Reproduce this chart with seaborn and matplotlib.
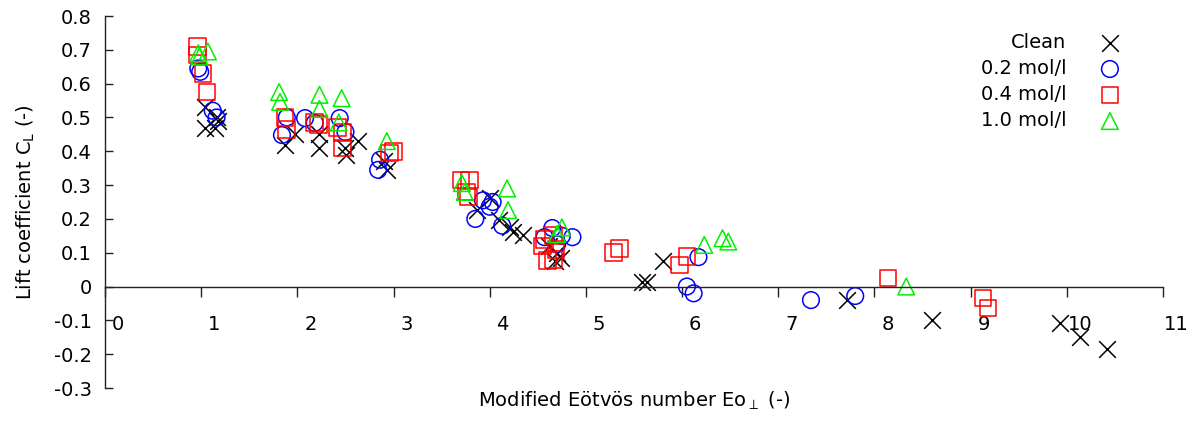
import matplotlib
matplotlib.use("Agg")
import matplotlib.pyplot as plt
import matplotlib.transforms as mtransforms
import pandas as pd
import seaborn as sns

# Lift coefficient vs. modified Eötvös number for each electrolyte concentration
clean_eo = [1.04, 1.16, 1.04, 1.14, 1.17,
            1.87, 1.98, 2.23, 2.23, 2.50, 2.51, 2.63, 2.90, 2.93,
            3.87, 4.00, 4.10, 4.21, 4.24, 4.35,
            4.62, 4.70, 4.74, 4.68,
            5.58, 5.64, 5.80, 7.71, 8.60, 9.93, 10.14, 10.42]
clean_cl = [0.53, 0.50, 0.47, 0.47, 0.49,
            0.42, 0.45, 0.45, 0.41, 0.41, 0.39, 0.43, 0.37, 0.345,
            0.227, 0.262, 0.197, 0.176, 0.16, 0.152,
            0.12, 0.10, 0.085, 0.075,
            0.013, 0.013, 0.075, -0.04, -0.10, -0.108, -0.149, -0.185]

c02_eo = [0.97, 0.99, 1.12, 1.16,
          1.84, 1.89, 2.08, 2.18, 2.44, 2.50, 2.86, 2.84,
          3.85, 3.93, 4.03, 4.00, 4.13,
          4.57, 4.65, 4.75, 4.86, 4.70,
          6.17, 6.05, 6.12, 7.34, 7.80]
c02_cl = [0.645, 0.635, 0.52, 0.50,
          0.448, 0.50, 0.498, 0.484, 0.498, 0.457, 0.375, 0.345,
          0.20, 0.255, 0.25, 0.236, 0.18,
          0.146, 0.173, 0.15, 0.146, 0.125,
          0.087, 0.0, -0.02, -0.04, -0.028]

c04_eo = [0.96, 0.96, 1.02, 1.06,
          1.87, 1.89, 2.18, 2.22, 2.42, 2.47, 2.47, 2.96, 3.00,
          3.70, 3.79, 3.76, 3.78,
          4.55, 4.57, 4.60, 4.66, 4.69, 4.66,
          5.29, 5.35, 5.97, 6.05, 8.14, 9.13, 9.18]
c04_cl = [0.71, 0.685, 0.63, 0.575,
          0.50, 0.465, 0.485, 0.48, 0.47, 0.455, 0.41, 0.395, 0.40,
          0.315, 0.315, 0.28, 0.265,
          0.12, 0.14, 0.078, 0.08, 0.11, 0.15,
          0.10, 0.113, 0.064, 0.088, 0.025, -0.034, -0.063]

c10_eo = [0.97, 0.98, 1.07,
          1.81, 1.82, 2.23, 2.23, 2.46, 2.43, 2.93,
          3.71, 3.74, 4.18, 4.19,
          4.75, 4.70,
          6.23, 6.42, 6.48, 8.33]
c10_cl = [0.69, 0.68, 0.695,
          0.575, 0.546, 0.567, 0.525, 0.557, 0.485, 0.43,
          0.306, 0.28, 0.29, 0.226,
          0.175, 0.155,
          0.123, 0.143, 0.133, 0.0]

series_names = ["Clean", "0.2 mol/l", "0.4 mol/l", "1.0 mol/l"]
series_eo = [clean_eo, c02_eo, c04_eo, c10_eo]
series_cl = [clean_cl, c02_cl, c04_cl, c10_cl]
series_markers = ["x", "o", "s", "^"]
series_colors = ["#000000", "#0000ff", "#ff0000", "#00f000"]

x_ticks = list(range(0, 12))
x_tick_labels = [str(v) for v in x_ticks]
y_ticks = [0.8, 0.7, 0.6, 0.5, 0.4, 0.3, 0.2, 0.1, 0.0, -0.1, -0.2, -0.3]
y_tick_labels = ["0.8", "0.7", "0.6", "0.5", "0.4", "0.3", "0.2", "0.1",
                 "0", "-0.1", "-0.2", "-0.3"]

sns.set_theme(style="white")
plt.rcParams["font.family"] = ["DejaVu Sans"]
plt.rcParams["axes.unicode_minus"] = False
plt.rcParams["text.color"] = "black"
plt.rcParams["axes.labelcolor"] = "black"
plt.rcParams["xtick.color"] = "black"
plt.rcParams["ytick.color"] = "black"

W, H = 1197, 421
fig = plt.figure(figsize=(W / 100, H / 100), dpi=100)
ax = fig.add_axes([105 / W, 1 - 388 / H, 1058 / W, 372 / H])

df = pd.concat(
    [pd.DataFrame({"Eo": xs, "CL": ys, "series": name})
     for name, xs, ys in zip(series_names, series_eo, series_cl)],
    ignore_index=True,
)

for name, marker, color in zip(series_names, series_markers, series_colors):
    sub = df[df["series"] == name]
    if marker == "x":
        sns.scatterplot(data=sub, x="Eo", y="CL", marker=marker, color=color,
                        s=144, linewidth=1.1, label=name, legend=False, ax=ax)
    else:
        sns.scatterplot(data=sub, x="Eo", y="CL", marker=marker, color=color,
                        facecolor="none", edgecolor=color, s=144,
                        linewidth=1.1, label=name, legend=False, ax=ax)

ax.set_xlim(0, 11)
ax.set_ylim(-0.3, 0.8)

axis_color = "#222222"
for side in ("top", "right"):
    ax.spines[side].set_visible(False)
for side in ("left", "bottom"):
    ax.spines[side].set_color(axis_color)
    ax.spines[side].set_linewidth(1.0)
ax.spines["bottom"].set_position(("data", 0))

ax.set_xticks(x_ticks)
ax.set_xticklabels(x_tick_labels)
ax.set_yticks(y_ticks)
ax.set_yticklabels(y_tick_labels)
ax.tick_params(axis="x", bottom=True, top=False, direction="out", length=7.2,
               width=1.0, color=axis_color, labelsize=14, pad=13.5,
               labelcolor="black")
ax.tick_params(axis="y", left=True, right=False, direction="in", length=6,
               width=1.0, color=axis_color, labelsize=14, pad=9.5,
               labelcolor="black")

# x tick labels sit a little to the right of their tick marks
shift = mtransforms.ScaledTranslation(0.13, 0, fig.dpi_scale_trans)
for lab in ax.get_xticklabels():
    lab.set_transform(lab.get_transform() + shift)

ax.set_xlabel(r"Modified Eötvös number Eo$_{\perp}$ (-)", fontsize=14, color="black")
ax.set_ylabel(r"Lift coefficient C$_{\mathregular{L}}$ (-)", fontsize=14, color="black")
ax.xaxis.set_label_coords(0.5, -0.005)
ax.yaxis.set_label_coords(-0.0646, 0.5)

leg = ax.legend(loc="upper right", bbox_to_anchor=(0.959, 0.954),
                frameon=False, markerfirst=False, handlelength=1.0,
                handletextpad=1.75, labelspacing=0.36, borderpad=0,
                borderaxespad=0, fontsize=14, labelcolor="black")
for col in leg._legend_handle_box.get_children():
    col.align = "right"

fig.savefig("out.png", dpi=100)
